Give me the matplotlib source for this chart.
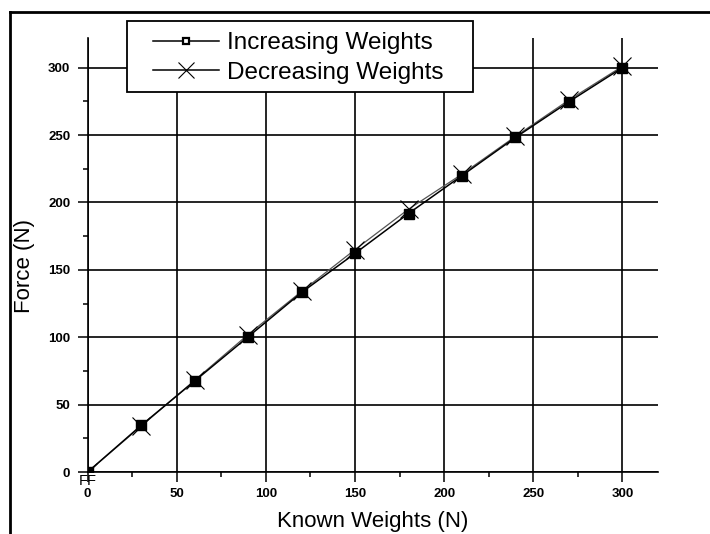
import matplotlib
matplotlib.use("Agg")
import matplotlib.pyplot as plt
from matplotlib.patches import Rectangle
from matplotlib.lines import Line2D
import matplotlib.ticker as mtick

plt.rcParams["font.family"] = ["Liberation Sans", "DejaVu Sans"]

# Data
known_weights = [0, 30, 60, 90, 120, 150, 180, 210, 240, 270, 300]
force_increasing = [0, 34.6, 67.5, 100.3, 133.2, 162.2, 191.8, 219.9, 248.2, 274.7, 300]
force_decreasing = [0, 34, 68, 102, 134, 165, 195, 221, 249, 276, 301]
x_ticks = [0, 50, 100, 150, 200, 250, 300]
y_ticks = [0, 50, 100, 150, 200, 250, 300]

fig = plt.figure(figsize=(7.1, 5.34), dpi=100)
ax = fig.add_axes([0.1235, 0.1161, 0.8033, 0.8127])

ax.plot(known_weights, force_decreasing, color="#555555", lw=0.9,
        marker="x", markersize=13, markeredgewidth=0.8, markeredgecolor="black",
        label="Decreasing Weights", zorder=3)
ax.plot(known_weights, force_increasing, color="black", lw=1.1,
        marker="s", markersize=6.5, markerfacecolor="black", markeredgecolor="black",
        label="Increasing Weights", zorder=4)

ax.set_xlim(0, 320)
ax.set_ylim(0, 322)
ax.set_xticks(x_ticks)
ax.set_yticks(y_ticks)
ax.xaxis.set_minor_locator(mtick.MultipleLocator(25))
ax.yaxis.set_minor_locator(mtick.MultipleLocator(25))
ax.tick_params(which="major", direction="out", length=7, width=1.1, color="black")
ax.tick_params(which="minor", direction="out", length=3.5, width=1.1, color="black")
ax.tick_params(axis="x", pad=4.5)
ax.tick_params(axis="y", pad=5.5)
for lbl in ax.get_xticklabels() + ax.get_yticklabels():
    lbl.set_fontsize(9.5)
    lbl.set_fontweight("bold")

ax.grid(True, which="major", color="black", lw=1.2)
ax.set_axisbelow(True)
for side in ["top", "right"]:
    ax.spines[side].set_visible(False)
for side in ["left", "bottom"]:
    ax.spines[side].set_linewidth(1.2)

ax.set_xlabel("Known Weights (N)", fontsize=16, labelpad=8)
ax.set_ylabel("Force (N)", fontsize=16)
ax.yaxis.set_label_coords(-0.093, 0.475)

# odd little label sitting at the origin
ax.annotate("FF", (0, 0), xytext=(-6.3, -1.5), textcoords="offset points",
            fontsize=10.5, va="top", ha="left", annotation_clip=False)

# legend box drawn by hand so padding matches
fig.patches.append(Rectangle((127 / 710, 1 - 92 / 534), 346 / 710, 71 / 534,
                             transform=fig.transFigure, facecolor="white",
                             edgecolor="black", lw=1.3, zorder=3))
handles = [
    Line2D([], [], color="black", lw=1.1, marker="s", markersize=5,
           markerfacecolor="white", markeredgecolor="black", markeredgewidth=1.6),
    Line2D([], [], color="black", lw=1.1, marker="x", markersize=11, markeredgewidth=0.8),
]
fig.legend(handles, ["Increasing Weights", "Decreasing Weights"], loc="upper left",
           bbox_to_anchor=(152.7 / 710, 0.94), frameon=False, fontsize=17.5,
           borderpad=0, borderaxespad=0, handlelength=2.72, handletextpad=0.33,
           labelspacing=0.31)

# outer frame (only top and left edges visible)
fig.add_artist(Line2D([10 / 710, 1.0], [1 - 12 / 534, 1 - 12 / 534],
                      transform=fig.transFigure, color="black", lw=2))
fig.add_artist(Line2D([10 / 710, 10 / 710], [0, 1 - 12 / 534],
                      transform=fig.transFigure, color="black", lw=2))

fig.savefig("out.png", dpi=100)
